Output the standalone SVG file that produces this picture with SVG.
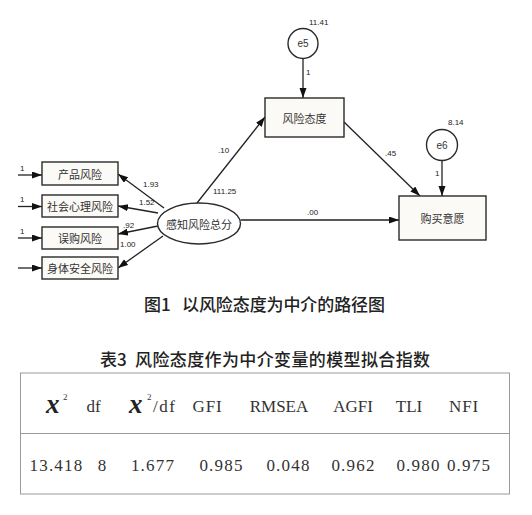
<svg xmlns="http://www.w3.org/2000/svg" width="532" height="515" viewBox="0 0 532 515">
<style>
.box{fill:#fcfaf6;stroke:#2a2a2a;stroke-width:1.4}
.lat{fill:#ffffff;stroke:#2a2a2a;stroke-width:1.4}
.lbl{font-family:"Noto Sans CJK SC","Noto Sans",sans-serif;font-size:11px;fill:#333;text-anchor:middle;dominant-baseline:central}
.num{font-family:"Liberation Sans",Arial,sans-serif;font-size:8px;fill:#222}
.con{stroke:#222;stroke-width:1.3;fill:none;marker-end:url(#ah)}
.cap{font-family:"Noto Sans CJK SC",sans-serif;fill:#222;font-size:17px;font-weight:500}
.tb{font-family:"Liberation Serif","Times New Roman",serif;font-size:17px;fill:#333;text-anchor:middle}
.val{font-family:"Liberation Serif","Times New Roman",serif;font-size:17px;fill:#333;text-anchor:middle;letter-spacing:1.2px}
.chi{font-family:"Liberation Serif","Times New Roman",serif;font-style:italic;font-weight:bold;font-size:27px;fill:#222}
.sup{font-family:"Liberation Serif","Times New Roman",serif;font-size:9px;fill:#333}
</style>
<defs>
<marker id="ah" markerUnits="userSpaceOnUse" markerWidth="11" markerHeight="8" refX="10" refY="3.5" orient="auto">
<path d="M0,0 L10,3.5 L0,7 z" fill="#111"/>
</marker>
</defs>
<rect width="532" height="515" fill="#ffffff"/>
<g id="connectors">
<line class="con" x1="303" y1="59" x2="303" y2="98"/>
<line class="con" x1="442" y1="161" x2="442" y2="196"/>
<line class="con" x1="197" y1="203" x2="265" y2="117"/>
<line class="con" x1="344" y1="122" x2="420" y2="196"/>
<line class="con" x1="240.5" y1="220" x2="399" y2="220"/>
<line class="con" x1="164" y1="208" x2="118" y2="174"/>
<line class="con" x1="158" y1="213" x2="118" y2="206"/>
<line class="con" x1="158" y1="226" x2="118" y2="234"/>
<line class="con" x1="163" y1="236" x2="118" y2="268"/>
<line class="con" x1="18" y1="175" x2="42" y2="175"/>
<line class="con" x1="18" y1="206.5" x2="42" y2="206.5"/>
<line class="con" x1="18" y1="238" x2="42" y2="238"/>
<line class="con" x1="18" y1="268" x2="42" y2="268"/>
<text class="num" x="306" y="75">1</text>
<text class="num" x="435" y="176">1</text>
<text class="num" x="218" y="153">.10</text>
<text class="num" x="385" y="156">.45</text>
<text class="num" x="307" y="215">.00</text>
<text class="num" x="143" y="187">1.93</text>
<text class="num" x="139" y="205">1.52</text>
<text class="num" x="123" y="228">.92</text>
<text class="num" x="120" y="247">1.00</text>
<text class="num" x="20" y="171">1</text>
<text class="num" x="20" y="202">1</text>
<text class="num" x="20" y="234">1</text>
</g>
<g id="e5">
<circle class="lat" cx="303" cy="43.5" r="15"/>
<text class="lbl" x="303" y="43.5" style="font-family:'Liberation Sans',sans-serif;font-size:10px">e5</text>
<text class="num" x="309" y="25">11.41</text>
</g>
<g id="e6">
<circle class="lat" cx="442" cy="145" r="15.5"/>
<text class="lbl" x="442" y="145" style="font-family:'Liberation Sans',sans-serif;font-size:10px">e6</text>
<text class="num" x="448" y="125">8.14</text>
</g>
<g id="n-attitude">
<rect class="box" x="265" y="98" width="79" height="39"/>
<text class="lbl" x="304.5" y="117.5">风险态度</text>
</g>
<g id="n-intent">
<rect class="box" x="399" y="196" width="87" height="44"/>
<text class="lbl" x="442.5" y="218">购买意愿</text>
</g>
<g id="n-perceived">
<ellipse class="lat" cx="199" cy="223.5" rx="41.5" ry="20.5"/>
<text class="lbl" x="199" y="223.5">感知风险总分</text>
<text class="num" x="213" y="194">111.25</text>
</g>
<g id="n-product">
<rect class="box" x="42" y="162" width="76" height="23"/>
<text class="lbl" x="80" y="173.5">产品风险</text>
</g>
<g id="n-social">
<rect class="box" x="42" y="195" width="76" height="22"/>
<text class="lbl" x="80" y="206">社会心理风险</text>
</g>
<g id="n-mispurchase">
<rect class="box" x="42" y="227" width="76" height="22"/>
<text class="lbl" x="80" y="238">误购风险</text>
</g>
<g id="n-physical">
<rect class="box" x="42" y="257" width="76" height="22"/>
<text class="lbl" x="80" y="268">身体安全风险</text>
</g>
<g id="captions">
<text class="cap" y="311"><tspan x="144">图1</tspan><tspan x="182" textLength="203" lengthAdjust="spacing">以风险态度为中介的路径图</tspan></text>
<text class="cap" y="366"><tspan x="100">表3</tspan><tspan x="135" textLength="295" lengthAdjust="spacing">风险态度作为中介变量的模型拟合指数</tspan></text>
</g>
<g id="table">
<rect x="20.5" y="373" width="489" height="121" fill="none" stroke="#9a9a9a" stroke-width="1"/>
<line x1="20.5" y1="433.5" x2="509.5" y2="433.5" stroke="#9a9a9a" stroke-width="1"/>
<text class="chi" x="46" y="413">x</text>
<text class="sup" x="63" y="400">2</text>
<text class="tb" x="93.5" y="412">df</text>
<text class="chi" x="129" y="413">x</text>
<text class="sup" x="147" y="400">2</text>
<text class="tb" x="153" y="412" style="text-anchor:start;letter-spacing:1.5px">/df</text>
<text class="tb" x="207.5" y="412" style="letter-spacing:0.8px">GFI</text>
<text class="tb" x="279" y="412">RMSEA</text>
<text class="tb" x="353" y="412">AGFI</text>
<text class="tb" x="409" y="412">TLI</text>
<text class="tb" x="464" y="412" style="letter-spacing:0.8px">NFI</text>
<text class="val" x="56.5" y="471">13.418</text>
<text class="val" x="102.5" y="471">8</text>
<text class="val" x="153" y="471">1.677</text>
<text class="val" x="221.5" y="471">0.985</text>
<text class="val" x="288.5" y="471">0.048</text>
<text class="val" x="353.5" y="471">0.962</text>
<text class="val" x="418.5" y="471">0.980</text>
<text class="val" x="469" y="471">0.975</text>
</g>
</svg>
